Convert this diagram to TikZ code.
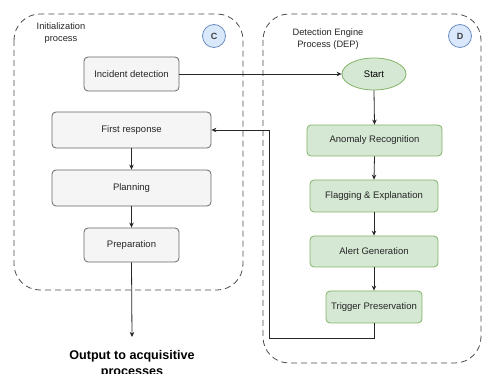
\documentclass[tikz,border=0pt]{standalone}
\usepackage{fontspec}
\setmainfont{Liberation Sans}
\usetikzlibrary{arrows.meta,shapes.geometric}
\definecolor{grayfill}{HTML}{F5F5F5}
\definecolor{grayline}{HTML}{666666}
\definecolor{greenfill}{HTML}{D5E8D4}
\definecolor{greenline}{HTML}{82B366}
\definecolor{bluefill}{HTML}{DAE8FC}
\definecolor{blueline}{HTML}{6C8EBF}
\definecolor{dashline}{HTML}{4D4D4D}
\tikzset{
  graybox/.style={draw=grayline, fill=grayfill, rounded corners=4pt, line width=0.8pt, font=\fontsize{9.5}{11}\selectfont, text=black!85},
  greenbox/.style={draw=greenline, fill=greenfill, rounded corners=4pt, line width=0.8pt, font=\fontsize{9.5}{11}\selectfont, text=black!85},
  badge/.style={circle, draw=blueline, fill=bluefill, line width=0.8pt, minimum size=23pt, inner sep=0pt, font=\bfseries\fontsize{9}{10}\selectfont, text=black!75},
  container/.style={draw=dashline, dash pattern=on 6pt off 4pt, line width=0.8pt, rounded corners=26pt},
  arr/.style={draw=black!85, line width=0.8pt, -{Stealth[length=5pt,width=4.5pt]}},
  lbl/.style={font=\fontsize{9.3}{11.5}\selectfont, align=center, text=black!85}
}
\begin{document}
\begin{tikzpicture}[x=1pt,y=-1pt]
\useasboundingbox (0,0) rectangle (483,374);
% containers
\draw[container] (14,14) rectangle (243,290);
\draw[container] (263,14) rectangle (481,363);
\node[badge] (C) at (214,36) {C};
\node[badge] (D) at (460,36) {D};
\node[lbl] (tC) at (61,33) {Initialization\\process};
\node[lbl] (tD) at (328,39) {Detection Engine\\Process (DEP)};
% left nodes
\node[graybox, minimum width=95pt, minimum height=34pt] (inc) at (131.5,74) {Incident detection};
\node[graybox, minimum width=159pt, minimum height=36pt] (fr) at (131.5,130) {First response};
\node[graybox, minimum width=159pt, minimum height=36pt] (plan) at (131.5,188) {Planning};
\node[graybox, minimum width=95pt, minimum height=34pt] (prep) at (131.5,245) {Preparation};
\node[font=\bfseries\fontsize{12.6}{16}\selectfont, align=center] (out) at (132,364) {Output to acquisitive\\processes};
% right nodes
\node[ellipse, draw=greenline, fill=greenfill, line width=0.8pt, minimum width=64pt, minimum height=32pt, inner sep=0pt, font=\fontsize{9.5}{11}\selectfont] (start) at (374,74) {Start};
\node[greenbox, minimum width=135pt, minimum height=31pt] (ar) at (374.5,140.5) {Anomaly Recognition};
\node[greenbox, minimum width=128pt, minimum height=32pt] (fe) at (374,196) {Flagging \& Explanation};
\node[greenbox, minimum width=128pt, minimum height=31pt] (ag) at (374,251.5) {Alert Generation};
\node[greenbox, minimum width=96pt, minimum height=32pt] (tp) at (374,307) {Trigger Preservation};
\coordinate (c1) at (269,338);
% connectors
\draw[arr] (inc.east) -- (start.west);
\draw[arr] (fr.south) -- (plan.north);
\draw[arr] (plan.south) -- (prep.north);
\draw[arr] (prep.south) -- (132,337);
\draw[arr] (start.south) -- (ar.north);
\draw[arr] (ar.south) -- (fe.north);
\draw[arr] (fe.south) -- (ag.north);
\draw[arr] (ag.south) -- (tp.north);
\draw[arr] (tp.south) |- (c1) |- (fr.east);
\end{tikzpicture}
\end{document}
